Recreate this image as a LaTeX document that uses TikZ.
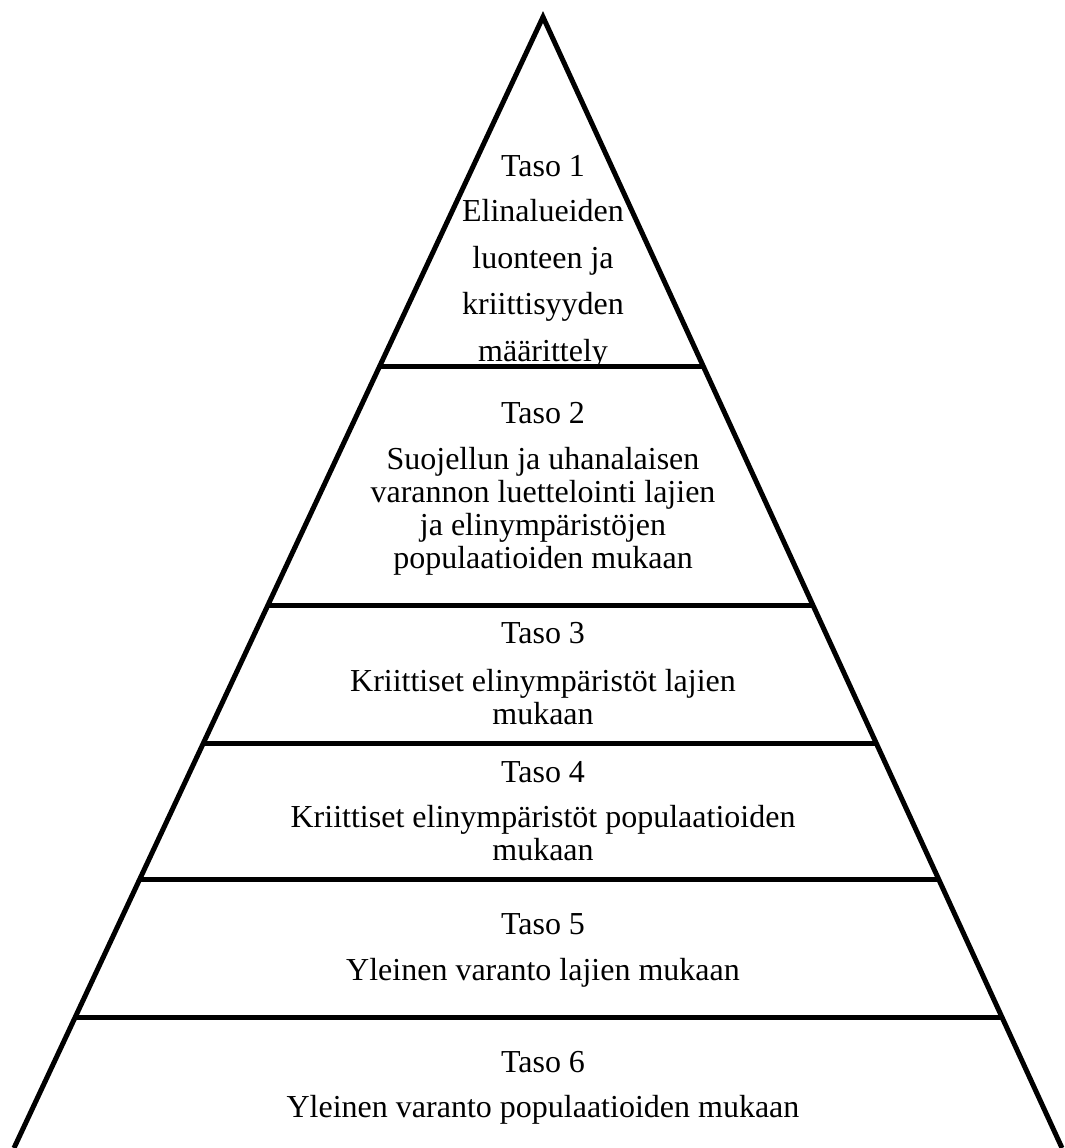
\documentclass[tikz,border=0pt]{standalone}
\usepackage{fontspec}
\setmainfont{Liberation Serif}
\usetikzlibrary{calc}
\tikzset{
  taso/.style={anchor=base, inner sep=0pt, font=\fontsize{32}{33}\selectfont},
  kuvaus/.style={anchor=base, inner sep=0pt, align=center, font=\fontsize{32}{33}\selectfont},
  porras/.style={line width=5pt},
}
\begin{document}
\begin{tikzpicture}[x=1pt,y=-1pt]
        \useasboundingbox (0,0) rectangle (1065,1148);
        \coordinate (huippu) at (543,17);
        \coordinate (vasen) at (14,1148);
        \coordinate (oikea) at (1062,1148);

        \draw[porras, line join=miter] (vasen) -- (huippu) -- (oikea);
        \foreach \y in {367,606,743,880,1017}
            \draw[porras] ($(huippu)!{(\y-17)/1131}!(vasen)$) -- ($(huippu)!{(\y-17)/1131}!(oikea)$);

        % base = last line of each text
        \node[taso] at (543,176) (t1) {Taso 1};
        \node[kuvaus] at (543,361) (k1) {Elinalueiden\\[13.5pt]luonteen ja\\[13.5pt]kriittisyyden\\[13.5pt]määrittely};
        \node[taso] at (543,423) (t2) {Taso 2};
        \node[kuvaus] at (543,568) (k2) {Suojellun ja uhanalaisen\\varannon luettelointi lajien\\ja elinympäristöjen\\populaatioiden mukaan};
        \node[taso] at (543,643) (t3) {Taso 3};
        \node[kuvaus] at (543,724) (k3) {Kriittiset elinympäristöt lajien\\mukaan};
        \node[taso] at (543,782) (t4) {Taso 4};
        \node[kuvaus] at (543,860) (k4) {Kriittiset elinympäristöt populaatioiden\\mukaan};
        \node[taso] at (543,934) (t5) {Taso 5};
        \node[kuvaus] at (543,980) (k5) {Yleinen varanto lajien mukaan};
        \node[taso] at (543,1072) (t6) {Taso 6};
        \node[kuvaus] at (543,1117) (k6) {Yleinen varanto populaatioiden mukaan};
\end{tikzpicture}
\end{document}
